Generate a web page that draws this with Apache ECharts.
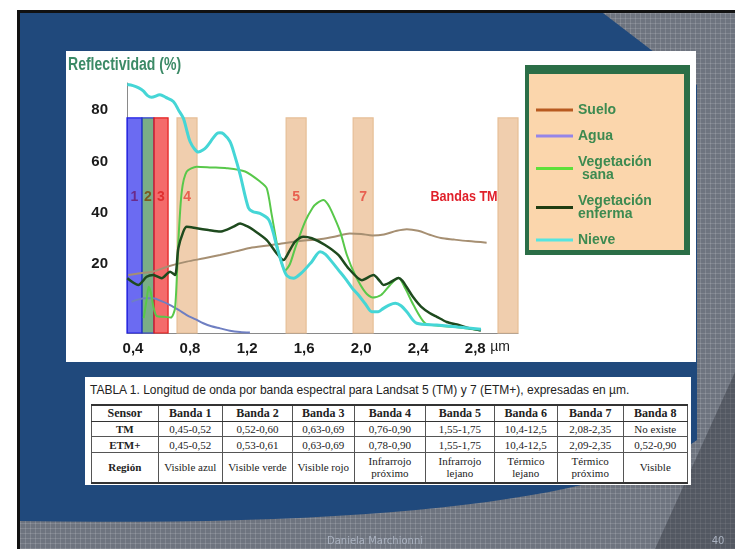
<!DOCTYPE html>
<html>
<head>
<meta charset="utf-8">
<script src="https://cdn.jsdelivr.net/npm/echarts@6/dist/echarts.min.js"></script>
<style>
  body { margin: 0; background: #fff; }
  #bg {
    position: absolute; left: 17px; top: 10px; width: 718px; height: 539px;
    box-sizing: border-box; border-left: 3px solid #111; border-top: 3px solid #111;
    background-color: #6e747f;
    background-image: linear-gradient(rgba(255,255,255,0.13) 1px, transparent 1px),
                      linear-gradient(90deg, rgba(255,255,255,0.13) 1px, transparent 1px);
    background-size: 5px 5px;
  }
  #main { position: absolute; left: 0; top: 0; width: 735px; height: 549px; }
  #tabla { position: absolute; left: 85px; top: 377px; width: 606px; height: 108px; background: #fff; }
  #tabla .cap { position: absolute; left: 5px; top: 6px; font: 12px "Liberation Sans", Arial, sans-serif; color: #222; white-space: nowrap; }
  #tabla table { position: absolute; left: 6px; top: 27px; border-collapse: collapse; table-layout: fixed;
    border-top: 2px solid #333; border-bottom: 2px solid #333; border-left: 1px solid #444; border-right: 1px solid #444; }
  #tabla td { border: 1px solid #555; padding: 0; text-align: center; vertical-align: middle;
    font: 11px "Liberation Serif", serif; color: #222; line-height: 12px; }
  #tabla tr:first-child td { font: bold 12px "Liberation Serif", serif; border-bottom: 1.5px solid #333; }
  #tabla td.b { font-weight: bold; }
</style>
</head>
<body>
<div id="bg"></div>
<div id="main"></div>
<div id="tabla"><div class="cap"></div><table></table></div>
<script>
// curvas de reflectividad (x en µm, y en %)
var sueloX = [0.367, 0.45, 0.54, 0.65, 0.777, 0.9, 1.01, 1.12, 1.22, 1.35, 1.47, 1.6, 1.72, 1.82, 1.92, 2.0, 2.08, 2.16, 2.25, 2.32, 2.4, 2.48, 2.56, 2.65, 2.75, 2.88];
var sueloY = [15.8, 16.5, 17.1, 19.2, 21.0, 22.3, 23.6, 25.0, 26.3, 27.3, 28.3, 29.2, 29.8, 30.8, 32.0, 31.8, 31.2, 31.6, 33.0, 33.6, 33.0, 31.5, 30.2, 29.6, 29.0, 28.4];

var aguaX = [0.39, 0.44, 0.484, 0.542, 0.6, 0.66, 0.72, 0.777, 0.84, 0.893, 0.95, 1.011, 1.08, 1.151, 1.22];
var aguaY = [5.4, 6.3, 6.7, 6.7, 5.6, 4.1, 2.2, 0.2, -1.5, -3.0, -4.2, -5.0, -5.9, -6.4, -6.6];

var sanaX = [0.475, 0.495, 0.51, 0.525, 0.545, 0.566, 0.62, 0.665, 0.695, 0.718, 0.742, 0.777, 0.847, 0.95, 1.057, 1.186, 1.291, 1.338, 1.373, 1.42, 1.455, 1.467, 1.50, 1.537, 1.607, 1.66, 1.689, 1.735, 1.765, 1.794, 1.853, 1.9, 1.958, 2.03, 2.08, 2.14, 2.203, 2.262, 2.31, 2.367, 2.449, 2.55, 2.648, 2.835];
var sanaY = [-1, 6, 11.2, 9, 3, -0.2, -0.5, -0.8, 2.9, 28.8, 48.3, 56.1, 58.0, 57.7, 57.4, 56.1, 52.2, 49.6, 39.2, 24.9, 18.4, 17.7, 20, 26.2, 36.6, 42, 43.7, 45.0, 43.5, 40.5, 32.7, 23.6, 15.8, 9, 7, 8, 11.9, 14.7, 10.5, 4.1, -3.0, -4.0, -4.4, -5.7];

var enfX = [0.36, 0.437, 0.496, 0.542, 0.601, 0.66, 0.695, 0.718, 0.753, 0.777, 0.847, 0.93, 1.011, 1.06, 1.104, 1.151, 1.2, 1.245, 1.338, 1.408, 1.455, 1.50, 1.537, 1.595, 1.654, 1.747, 1.84, 1.911, 2.005, 2.087, 2.13, 2.156, 2.2, 2.262, 2.29, 2.32, 2.367, 2.42, 2.48, 2.531, 2.6, 2.672, 2.75, 2.84];
var enfY = [14.5, 11.9, 15.1, 15.8, 14.5, 17.1, 15.8, 26.2, 32.7, 34.6, 34.0, 33.3, 32.7, 33.5, 34.6, 35.9, 34.8, 33.3, 29.4, 24.2, 21.6, 25.5, 28.8, 30.7, 30.1, 27.5, 23.6, 18.4, 13.8, 15.8, 13.5, 11.9, 12.8, 14.6, 13.5, 11, 7.0, 3.5, 1.0, -0.5, -2.5, -3.5, -4.8, -5.8];

var nieveX = [0.36, 0.40, 0.44, 0.472, 0.50, 0.53, 0.589, 0.63, 0.683, 0.72, 0.753, 0.78, 0.80, 0.83, 0.858, 0.89, 0.917, 0.96, 0.99, 1.01, 1.035, 1.08, 1.11, 1.151, 1.209, 1.24, 1.29, 1.35, 1.38, 1.408, 1.455, 1.48, 1.525, 1.58, 1.654, 1.712, 1.75, 1.794, 1.84, 1.888, 1.94, 1.981, 2.03, 2.075, 2.12, 2.156, 2.2, 2.24, 2.28, 2.32, 2.39, 2.53, 2.68, 2.84];
var nieveY = [90, 89.6, 88.7, 87.5, 85.8, 85.0, 86.0, 85.0, 83.4, 80.0, 76.9, 71.5, 67.8, 65.0, 63.7, 64.5, 65.8, 69.0, 71.0, 71.2, 70.8, 67.8, 63, 55, 42, 40.5, 39.8, 37.5, 33, 27, 18.4, 15.5, 14.5, 16.5, 21.0, 24.9, 23.8, 21.0, 17.8, 14.5, 10.5, 8.0, 4.5, 1.5, 1.5, 2.8, 4.2, 4.8, 3.8, 1.5, -3.0, -3.7, -4.5, -5.3];

// bandas TM (µm)
var bandStart = [0.358, 0.463, 0.547, 0.709, 1.474, 1.944, 2.96];
var bandEnd = [0.463, 0.547, 0.646, 0.849, 1.614, 2.084, 3.10];
var bandLabels = ['1', '2', '3', '4', '5', '7', ''];
var bandTop = 77;

var xTicks = [0.4, 0.8, 1.2, 1.6, 2.0, 2.4, 2.8];
var yTicks = [20, 40, 60, 80];

var seriesNames = ['Suelo', 'Agua', 'Vegetación\n sana', 'Vegetación\nenferma', 'Nieve'];

// tabla
var tableHead = ['Sensor', 'Banda 1', 'Banda 2', 'Banda 3', 'Banda 4', 'Banda 5', 'Banda 6', 'Banda 7', 'Banda 8'];
var tmRow = ['TM', '0,45-0,52', '0,52-0,60', '0,63-0,69', '0,76-0,90', '1,55-1,75', '10,4-12,5', '2,08-2,35', 'No existe'];
var etmRow = ['ETM+', '0,45-0,52', '0,53-0,61', '0,63-0,69', '0,78-0,90', '1,55-1,75', '10,4-12,5', '2,09-2,35', '0,52-0,90'];
var regionRow = ['Región', 'Visible azul', 'Visible verde', 'Visible rojo', 'Infrarrojo<br>próximo', 'Infrarrojo<br>lejano', 'Térmico<br>lejano', 'Térmico<br>próximo', 'Visible'];
var colWidths = [66.6, 64.4, 70, 61.6, 71.7, 68.3, 63.4, 65.6, 64.4];
var rowHeights = [15, 15, 16, 30];

var sans = "'Liberation Sans', Arial, sans-serif";

function pairs(xs, ys) {
  return xs.map(function (x, i) { return [x, ys[i]]; });
}

// fondo azul de la diapositiva: borde inferior curvo
function slideShape() {
  var pts = [[20, 13], [603, 13], [697, 85], [697, 440]];
  var p0 = [697, 440], p1 = [630, 490], p2 = [430, 528], p3 = [20, 521];
  for (var k = 1; k <= 30; k++) {
    var t = k / 30, u = 1 - t;
    pts.push([
      u * u * u * p0[0] + 3 * u * u * t * p1[0] + 3 * u * t * t * p2[0] + t * t * t * p3[0],
      u * u * u * p0[1] + 3 * u * u * t * p1[1] + 3 * u * t * t * p2[1] + t * t * t * p3[1]
    ]);
  }
  return pts;
}

var bandFill = ['rgba(30,30,235,0.66)', 'rgba(40,125,60,0.62)', 'rgba(238,30,30,0.66)',
  'rgba(230,170,115,0.58)', 'rgba(230,170,115,0.58)', 'rgba(230,170,115,0.58)', 'rgba(230,170,115,0.58)'];
var bandStroke = ['#1c1ce6', '#2a3fc8', '#e31c1c', '#e6be96', '#e6be96', '#e6be96', '#e6be96'];
var bandTextColor = ['#6b2a8a', '#7a5a20', '#e03030', '#e86050', '#e86050', '#e86050', '#e86050'];

function textEl(txt, x, y, fill, font, align, sx) {
  return { type: 'text', z: 10, x: x, y: y, scaleX: sx || 1,
    style: { text: txt, fill: fill, font: font, textAlign: align || 'center', textVerticalAlign: 'middle' } };
}

var chart = echarts.init(document.getElementById('main'));

var option = {
  backgroundColor: 'transparent',
  animation: false,
  legend: {
    data: seriesNames.map(function (n, i) {
      return { name: n, itemStyle: { color: ['#b85a20', '#9585e8', '#5ee03a', '#1f3d12', '#55e5e0'][i] } };
    }),
    icon: 'rect',
    orient: 'vertical',
    left: 531,
    top: 98,
    itemWidth: 37,
    itemHeight: 3,
    itemGap: 12,
    textStyle: { color: '#3d8a50', fontSize: 14, fontWeight: 'bold', fontFamily: sans, lineHeight: 13 }
  },
  grid: { left: 127, top: 83, right: 217, bottom: 216 },
  xAxis: {
    type: 'value',
    min: 0.358,
    max: 3.10,
    axisLine: { onZero: false, lineStyle: { color: '#8a8a8a' } },
    axisTick: { show: false },
    splitLine: { show: false },
    axisLabel: {
      customValues: xTicks,
      margin: 8,
      color: '#1a1a1a',
      fontSize: 15,
      fontWeight: 'bold',
      fontFamily: sans,
      formatter: function (v) { return v.toFixed(1).replace('.', ','); }
    }
  },
  yAxis: {
    type: 'value',
    min: -6.8,
    max: 90.6,
    axisLine: { show: true, lineStyle: { color: '#8a8a8a' } },
    axisTick: { show: false },
    splitLine: { show: false },
    axisLabel: {
      customValues: yTicks,
      margin: 19,
      color: '#1a1a1a',
      fontSize: 15,
      fontWeight: 'bold',
      fontFamily: sans
    }
  },
  graphic: [
    { type: 'polygon', z: -10, shape: { points: slideShape() }, style: { fill: '#20497c' } },
    { type: 'polygon', z: -10, shape: { points: [[655, 549], [735, 372], [735, 549]] }, style: { fill: 'rgba(35,38,45,0.35)' } },
    { type: 'rect', z: -9, shape: { x: 66, y: 51, width: 630, height: 311 }, style: { fill: '#fff' } },
    { type: 'rect', z: -8, shape: { x: 525, y: 65, width: 165, height: 190 }, style: { fill: '#2b6e47' } },
    { type: 'rect', z: -7, shape: { x: 529, y: 74, width: 155, height: 176 }, style: { fill: '#fbd6ac' } },
    textEl('Reflectividad (%)', 68, 65, '#3b8a66', 'bold 18px ' + sans, 'left', 0.78),
    textEl('Bandas TM', 464, 197, '#e0202a', 'bold 15px ' + sans, 'center', 0.84),
    textEl('µm', 500, 347, '#1a1a1a', '14px ' + sans),
    textEl('Daniela Marchionni', 375, 541, '#aab2c0', '10px "DejaVu Sans", sans-serif'),
    textEl('40', 718, 541, '#aab2c0', '10px "DejaVu Sans", sans-serif')
  ],
  series: [
    { name: seriesNames[0], type: 'line', data: pairs(sueloX, sueloY), showSymbol: false, smooth: 0.3, lineStyle: { color: '#a68f72', width: 2 }, itemStyle: { color: '#a68f72' } },
    { name: seriesNames[1], type: 'line', data: pairs(aguaX, aguaY), showSymbol: false, smooth: 0.3, lineStyle: { color: '#6f7fc2', width: 2 }, itemStyle: { color: '#6f7fc2' } },
    { name: seriesNames[2], type: 'line', data: pairs(sanaX, sanaY), showSymbol: false, smooth: 0.25, lineStyle: { color: '#58c84a', width: 2 }, itemStyle: { color: '#58c84a' } },
    { name: seriesNames[3], type: 'line', data: pairs(enfX, enfY), showSymbol: false, smooth: 0.25, lineStyle: { color: '#1e4a1e', width: 2.5 }, itemStyle: { color: '#1e4a1e' } },
    { name: seriesNames[4], type: 'line', data: pairs(nieveX, nieveY), showSymbol: false, smooth: 0.3, lineStyle: { color: '#45d6d6', width: 3 }, itemStyle: { color: '#45d6d6' } },
    {
      name: 'Bandas',
      type: 'custom',
      z: 3,
      silent: true,
      encode: { x: [0, 1] },
      data: bandStart.map(function (s, i) { return [s, bandEnd[i]]; }),
      renderItem: function (params, api) {
        var i = params.dataIndex;
        var a = api.coord([api.value(0), bandTop]);
        var b = api.coord([api.value(1), -6.8]);
        var c = api.coord([(api.value(0) + api.value(1)) / 2, 46.2]);
        return {
          type: 'group',
          children: [
            { type: 'rect', shape: { x: a[0], y: a[1], width: b[0] - a[0], height: b[1] - a[1] },
              style: { fill: bandFill[i], stroke: bandStroke[i], lineWidth: 1.2 } },
            { type: 'text', style: { text: bandLabels[i], x: c[0], y: c[1], fill: bandTextColor[i],
              font: 'bold 14px ' + sans, textAlign: 'center', textVerticalAlign: 'middle' } }
          ]
        };
      }
    }
  ]
};

chart.setOption(option);

// tabla 1
document.querySelector('#tabla .cap').innerHTML =
  'TABLA 1. Longitud de onda por banda espectral para Landsat 5 (TM) y 7 (ETM+), expresadas en µm.';
var tbl = document.querySelector('#tabla table');
var html = '<colgroup>' + colWidths.map(function (w) { return '<col style="width:' + w + 'px">'; }).join('') + '</colgroup>';
[tableHead, tmRow, etmRow, regionRow].forEach(function (row, r) {
  html += '<tr style="height:' + rowHeights[r] + 'px">';
  row.forEach(function (cell, c) {
    html += '<td' + (c === 0 ? ' class="b"' : '') + '>' + cell + '</td>';
  });
  html += '</tr>';
});
tbl.style.width = colWidths.reduce(function (s, w) { return s + w; }, 0) + 'px';
tbl.innerHTML = html;

window.onresize = function () {
  chart.resize();
};
</script>
</body>
</html>
